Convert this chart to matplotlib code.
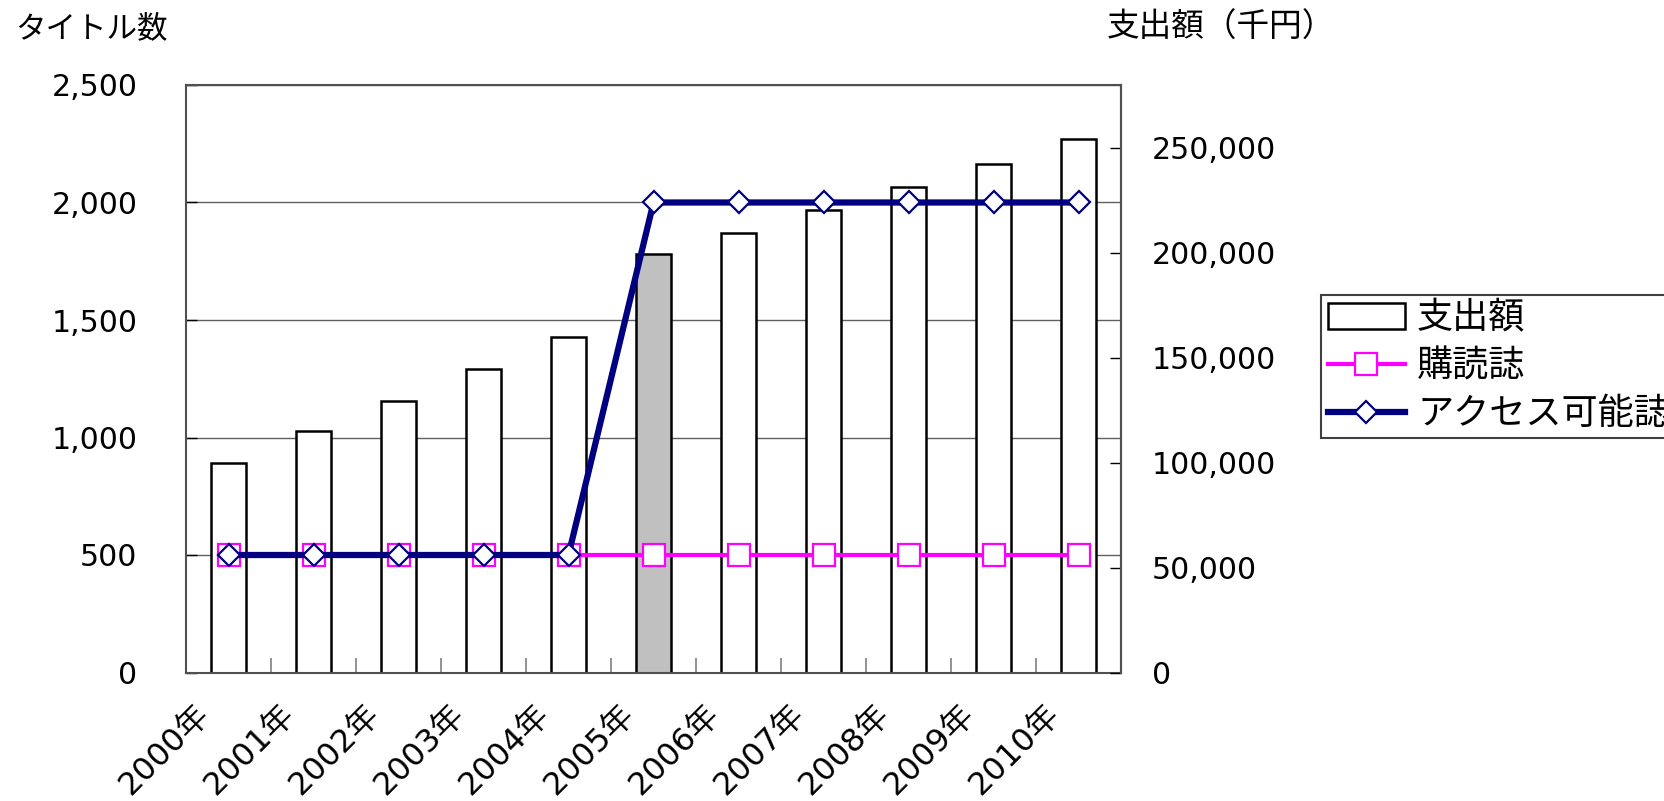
import matplotlib
matplotlib.use('Agg')
import matplotlib.pyplot as plt
import numpy as np
from matplotlib.ticker import FuncFormatter

plt.rcParams['font.family'] = ['DejaVu Sans', 'Noto Sans CJK JP']

# ---- data ----
years = ['2000年', '2001年', '2002年', '2003年', '2004年', '2005年',
         '2006年', '2007年', '2008年', '2009年', '2010年']
spending = [100000, 115000, 129500, 144500, 160000, 199500,
            209500, 220500, 231500, 242500, 254500]          # 支出額（千円）
subscribed = [500, 500, 500, 500, 500, 500, 500, 500, 500, 500, 500]   # 購読誌
accessible = [500, 500, 500, 500, 500, 2000, 2000, 2000, 2000, 2000, 2000]  # アクセス可能誌
left_ticks = [0, 500, 1000, 1500, 2000, 2500]
right_ticks = [0, 50000, 100000, 150000, 200000, 250000]
left_max = 2500
right_max = 280000
highlight = '2005年'

# ---- layout ----
W, H = 1664, 801
fig = plt.figure(figsize=(W / 100, H / 100), dpi=100)
fig.patch.set_facecolor('white')
L, R, B, T = 186, 1121, 672.5, 85
ax = fig.add_axes([L / W, 1 - B / H, (R - L) / W, (B - T) / H])
ax2 = ax.twinx()

x = np.arange(len(years))
ax.set_xlim(-0.5, len(years) - 0.5)
ax.set_ylim(0, left_max)
ax2.set_ylim(0, right_max)

# bars drawn in ax but through ax2's (right-axis) data scale, so grid stays behind
colors = ['#C0C0C0' if y == highlight else 'white' for y in years]
bars = ax.bar(x, spending, width=0.42, color=colors, edgecolor='black',
              linewidth=1.8, transform=ax2.transData, zorder=2, label='支出額')

l1, = ax.plot(x, subscribed, color='#FF00FF', lw=3, marker='s', ms=16,
              mfc='white', mec='#FF00FF', mew=1.6, zorder=3, label='購読誌')
l2, = ax.plot(x, accessible, color='#000080', lw=4.5, marker='D', ms=11.7,
              mfc='white', mec='#000080', mew=1.6, zorder=4, label='アクセス可能誌')

# grid
ax.set_axisbelow(True)
ax.yaxis.grid(True, color='#606060', lw=1)

# spines
for s in ax.spines.values():
    s.set_color('#505050')
    s.set_linewidth(1.5)
for k in ['left', 'top', 'bottom']:
    ax2.spines[k].set_visible(False)
ax2.spines['right'].set_color('#505050')
ax2.spines['right'].set_linewidth(1.5)

fmt = FuncFormatter(lambda v, p: f'{int(v):,}')
ax.set_yticks(left_ticks)
ax.yaxis.set_major_formatter(fmt)
ax.tick_params(axis='y', direction='in', length=8, width=1, color='black',
               pad=35, labelsize=21.6)
ax2.set_yticks(right_ticks)
ax2.yaxis.set_major_formatter(fmt)
ax2.tick_params(axis='y', direction='in', length=8, width=1, color='black',
                pad=22, labelsize=21.6)

ax.set_xticks(x - 0.15)
ax.set_xticklabels(years, rotation=45, ha='right', va='top')
ax.tick_params(axis='x', which='major', length=0, pad=19, labelsize=23)
ax.set_xticks(x[:-1] + 0.5, minor=True)
ax.tick_params(axis='x', which='minor', direction='in', length=11, width=1.2,
               color='#808080')

# axis titles
fig.text(15 / W, 1 - 29 / H, 'タイトル数', fontsize=22, va='center', ha='left')
fig.text(1107 / W, 1 - 27.5 / H, '支出額（千円）', fontsize=23.5, va='center', ha='left')

# legend
leg = fig.legend([bars, l1, l2], ['支出額', '購読誌', 'アクセス可能誌'],
                 loc='upper left', bbox_to_anchor=(1321 / W, 1 - 295 / H),
                 fontsize=26, frameon=True, fancybox=False, framealpha=1,
                 edgecolor='#404040', borderpad=0.18, labelspacing=0.38,
                 handlelength=2.15, handletextpad=0.33, borderaxespad=0)
leg.get_frame().set_linewidth(1.5)

fig.savefig('out.png', dpi=100)
